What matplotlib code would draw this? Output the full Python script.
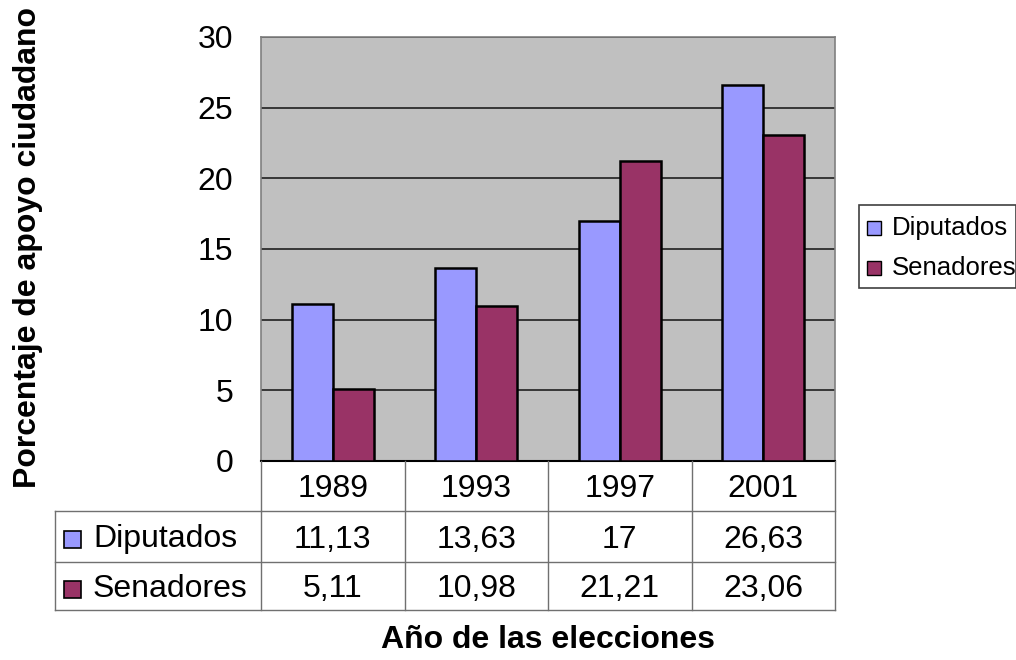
import matplotlib
matplotlib.use("Agg")
import matplotlib.pyplot as plt
from matplotlib.patches import Rectangle
from matplotlib.lines import Line2D
import numpy as np

plt.rcParams['font.family'] = ['Liberation Sans', 'DejaVu Sans']

years = ["1989", "1993", "1997", "2001"]
series_names = ["Diputados", "Senadores"]
diputados = [11.13, 13.63, 17, 26.63]
senadores = [5.11, 10.98, 21.21, 23.06]
diputados_labels = ["11,13", "13,63", "17", "26,63"]
senadores_labels = ["5,11", "10,98", "21,21", "23,06"]
y_ticks = [0, 5, 10, 15, 20, 25, 30]

colors = ["#9999FF", "#993366"]
W, H = 1016, 660
FS = 23

fig = plt.figure(figsize=(W / 100, H / 100), dpi=100)
fig.patch.set_facecolor("white")


def fx(px):
    return px / W


def fy(py):
    return 1 - py / H


# plot area in pixel geometry
left, right, top, bottom = 261, 835, 37, 461
ax = fig.add_axes([fx(left), fy(bottom), fx(right - left), (bottom - top) / H])
ax.set_facecolor("#C0C0C0")
x = np.arange(len(years))
bw = 0.285
ax.bar(x - bw / 2, diputados, bw, color=colors[0], edgecolor="black", linewidth=1.8, zorder=3)
ax.bar(x + bw / 2, senadores, bw, color=colors[1], edgecolor="black", linewidth=1.8, zorder=3)
ax.set_xlim(-0.5, len(years) - 0.5)
ax.set_ylim(0, 30)
ax.set_yticks(y_ticks)
ax.set_yticklabels([str(t) for t in y_ticks], fontsize=FS)
ax.set_xticks([])
ax.yaxis.grid(True, color="#202020", linewidth=1.2, zorder=1)
ax.tick_params(axis="y", length=0, pad=20)
for s in ax.spines.values():
    s.set_color("#808080")
    s.set_linewidth(1.2)
ax.spines["bottom"].set_color("black")
ax.spines["bottom"].set_linewidth(1.5)

# data table under the plot
tleft = 55
col_w = (right - left) / len(years)
rows_y = [461, 511, 562, 610]
text_dy = 3
line_kw = dict(color="#707070", linewidth=1.0)
fig.add_artist(Line2D([fx(left), fx(right)], [fy(rows_y[1]), fy(rows_y[1])], **line_kw))
fig.add_artist(Line2D([fx(tleft), fx(left)], [fy(rows_y[1]), fy(rows_y[1])], **line_kw))
for ry in rows_y[2:]:
    fig.add_artist(Line2D([fx(tleft), fx(right)], [fy(ry), fy(ry)], **line_kw))
fig.add_artist(Line2D([fx(tleft), fx(tleft)], [fy(rows_y[1]), fy(rows_y[3])], **line_kw))
for i in range(len(years) + 1):
    cx = left + i * col_w
    fig.add_artist(Line2D([fx(cx), fx(cx)], [fy(rows_y[0]), fy(rows_y[3])], **line_kw))

row_mid = [(rows_y[k] + rows_y[k + 1]) / 2 + text_dy for k in range(3)]
for i, yr in enumerate(years):
    cx = left + (i + 0.5) * col_w
    fig.text(fx(cx), fy(row_mid[0]), yr, ha="center", va="center", fontsize=FS)
    fig.text(fx(cx), fy(row_mid[1]), diputados_labels[i], ha="center", va="center", fontsize=FS)
    fig.text(fx(cx), fy(row_mid[2]), senadores_labels[i], ha="center", va="center", fontsize=FS)

for j, name in enumerate(series_names):
    cy = row_mid[j + 1]
    sq = 17
    fig.add_artist(Rectangle((fx(64), fy(cy + sq / 2)), sq / W, sq / H,
                             facecolor=colors[j], edgecolor="black", linewidth=1.2))
    fig.text(fx(93), fy(cy), name, ha="left", va="center", fontsize=FS)

# legend
lx0, ly0, lx1, ly1 = 859, 205, 1016, 288
fig.add_artist(Rectangle((fx(lx0), fy(ly1)), (lx1 - lx0) / W, (ly1 - ly0) / H,
                         facecolor="white", edgecolor="#404040", linewidth=1.2))
for j, name in enumerate(series_names):
    cy = 228 + j * 40
    sq = 14
    fig.add_artist(Rectangle((fx(867), fy(cy + sq / 2)), sq / W, sq / H,
                             facecolor=colors[j], edgecolor="black", linewidth=1.0))
    fig.text(fx(892), fy(cy), name, ha="left", va="center", fontsize=18.5)

fig.text(fx(28), fy(248), "Porcentaje de apoyo ciudadano", rotation=90,
         ha="center", va="center", fontsize=23, fontweight="bold")
fig.text(fx(548), fy(640), "Año de las elecciones", ha="center", va="center",
         fontsize=23, fontweight="bold")

fig.savefig("out.png", dpi=100)
